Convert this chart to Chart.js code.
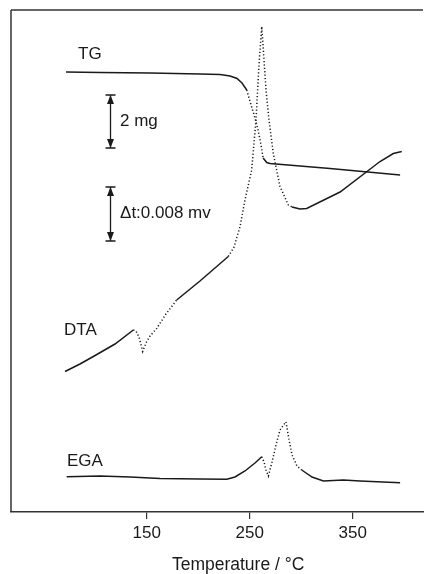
<!DOCTYPE html>
<html><head><meta charset="utf-8">
<script src="https://cdn.jsdelivr.net/npm/chart.js@4/dist/chart.umd.min.js"></script>
<style>html,body{margin:0;padding:0;background:#fff;overflow:hidden;}canvas{display:block;}</style>
</head><body>
<canvas id="c" width="424" height="574"></canvas>
<script>
// ---- data (temperature in °C, signal in arbitrary units) ----
const tgTemp   = [71.7, 104.7, 153.2, 201.7, 221.2, 230.9, 237.7, 242.5, 247.1, 250.3, 255.1, 258.1, 261.0, 263.0, 266.5, 269.7, 328.0, 396.0];
const tgSignal = [88.0, 87.9, 87.8, 87.6, 87.5, 87.2, 86.7, 85.8, 84.4, 82.1, 78.8, 76.4, 73.4, 70.8, 69.9, 69.7, 68.7, 67.4];

const dtaTemp   = [70.7, 85.2, 98.2, 119.2, 137.0, 139.6, 142.5, 144.5, 146.1, 149.3, 153.2, 159.7, 168.7, 179.1, 201.7, 229.2, 234.8, 240.6, 245.4, 251.9, 256.1, 259.0, 261.7, 264.2, 265.8, 268.7, 272.9, 279.4, 287.5, 291.1, 298.8, 305.3, 337.7, 376.5, 389.4, 397.6];
const dtaSignal = [28.1, 29.6, 31.1, 33.6, 36.4, 36.2, 35.0, 33.4, 32.1, 33.8, 35.2, 36.7, 39.6, 42.4, 46.2, 51.1, 53.0, 57.1, 62.4, 68.4, 78.4, 89.4, 97.1, 89.4, 84.4, 78.4, 71.7, 65.1, 61.4, 61.0, 60.6, 60.7, 64.0, 70.1, 71.7, 72.1];

const egaTemp   = [72.3, 104.7, 133.8, 162.9, 201.7, 227.7, 235.7, 245.4, 255.1, 261.7, 263.9, 265.8, 268.1, 271.7, 275.5, 279.4, 285.2, 288.2, 291.1, 295.9, 300.5, 310.5, 321.5, 340.9, 357.1, 396.0];
const egaSignal = [7.06, 7.2, 7.0, 6.7, 6.6, 6.54, 7.0, 8.2, 9.8, 11.06, 10.0, 8.4, 7.2, 10.0, 13.4, 16.4, 18.06, 14.4, 11.4, 9.2, 8.4, 7.0, 6.2, 6.4, 6.2, 5.86];

const xTickValues = [150, 250, 350];
const xTitle = 'Temperature / \u00B0C';

// scale bars (temperature position, signal from / to) and their labels
const barTemp = [114.4, 114.4];
const barFrom = [83.4, 65.0];
const barTo   = [72.8, 54.2];
const labelText = ['TG', '2 mg', '\u0394t:0.008 mv', 'DTA', 'EGA'];
const labelTemp = [83.3, 124.1, 124.1, 69.7, 72.6];
const labelSignal = [91.6, 78.1, 59.8, 36.4, 10.2];

// ---- styling ----
const INK = '#1a1a1a';
const FONT = "'Liberation Sans', Arial, sans-serif";
const dotted = {
  TG:  [[247.1, 263.0]],
  DTA: [[137.0, 179.1], [229.2, 291.1]],
  EGA: [[261.7, 300.5]]
};

function pts(xs, ys) { return xs.map((x, i) => ({x: x, y: ys[i]})); }
function seg(name) {
  return {
    borderDash: ctx => {
      const a = ctx.p0.parsed.x, b = ctx.p1.parsed.x;
      return dotted[name].some(r => a >= r[0] - 0.01 && b <= r[1] + 0.01) ? [1.2, 2.2] : undefined;
    }
  };
}
function ds(name, xs, ys) {
  return { label: name, data: pts(xs, ys), borderColor: INK, borderWidth: 1.5, pointRadius: 0, tension: 0, fill: false, segment: seg(name) };
}

const decor = {
  id: 'decor',
  afterDraw(chart) {
    const {ctx, chartArea: a, scales: {x, y}} = chart;
    ctx.save();
    // frame: left and top lines (open on the right)
    ctx.strokeStyle = '#333'; ctx.lineWidth = 1.5;
    ctx.beginPath();
    ctx.moveTo(a.left, a.bottom); ctx.lineTo(a.left, a.top);
    ctx.stroke();
    ctx.beginPath();
    ctx.moveTo(a.left, a.top); ctx.lineTo(a.right - 1, a.top);
    ctx.stroke();
    // scale bars
    ctx.strokeStyle = INK; ctx.fillStyle = INK; ctx.lineWidth = 1.3;
    for (let i = 0; i < barTemp.length; i++) {
      const px = Math.round(x.getPixelForValue(barTemp[i])) + 0.5;
      const y1 = y.getPixelForValue(barFrom[i]), y2 = y.getPixelForValue(barTo[i]);
      ctx.beginPath();
      ctx.moveTo(px, y1); ctx.lineTo(px, y2);
      ctx.moveTo(px - 5, y1); ctx.lineTo(px + 5, y1);
      ctx.moveTo(px - 5, y2); ctx.lineTo(px + 5, y2);
      ctx.stroke();
      ctx.beginPath();
      ctx.moveTo(px, y1); ctx.lineTo(px - 3.5, y1 + 9); ctx.lineTo(px + 3.5, y1 + 9); ctx.closePath();
      ctx.moveTo(px, y2); ctx.lineTo(px - 3.5, y2 - 9); ctx.lineTo(px + 3.5, y2 - 9); ctx.closePath();
      ctx.fill();
    }
    // labels
    ctx.fillStyle = INK;
    ctx.font = '17px ' + FONT; ctx.textAlign = 'left'; ctx.textBaseline = 'middle';
    for (let i = 0; i < labelText.length; i++) {
      ctx.fillText(labelText[i], x.getPixelForValue(labelTemp[i]), y.getPixelForValue(labelSignal[i]));
    }
    // axis title
    ctx.font = '17.5px ' + FONT; ctx.textAlign = 'center';
    ctx.fillText(xTitle, a.left + (a.right - a.left) * 0.55, chart.height - 9);
    ctx.restore();
  }
};

new Chart(document.getElementById('c'), {
  type: 'line',
  data: { datasets: [ds('TG', tgTemp, tgSignal), ds('DTA', dtaTemp, dtaSignal), ds('EGA', egaTemp, egaSignal)] },
  options: {
    responsive: false, animation: false, devicePixelRatio: 1,
    layout: { padding: { left: 11, top: 10, right: 0, bottom: 0 } },
    plugins: { legend: { display: false }, tooltip: { enabled: false } },
    scales: {
      x: {
        type: 'linear', min: 18.25, max: 419.2,
        afterBuildTicks: s => { s.ticks = xTickValues.map(v => ({value: v})); },
        afterFit: s => { s.height = 62; },
        grid: { display: true, drawOnChartArea: false, drawTicks: true, tickLength: 7, color: '#333', lineWidth: 1.2 },
        border: { display: true, color: '#333', width: 1.5 },
        ticks: { color: INK, font: { family: FONT, size: 17 }, padding: 4, maxRotation: 0 },
        title: { display: false }
      },
      y: { type: 'linear', min: 0, max: 100.4, display: false }
    }
  },
  plugins: [decor]
});
</script>
</body></html>
